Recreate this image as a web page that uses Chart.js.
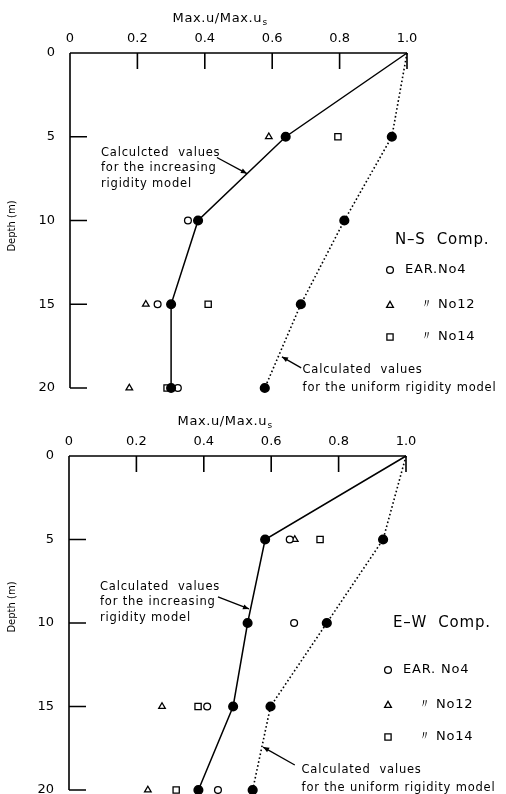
<!DOCTYPE html>
<html><head><meta charset="utf-8">
<script src="https://cdn.jsdelivr.net/npm/chart.js@4/dist/chart.umd.min.js"></script>
<style>
html,body{margin:0;padding:0;background:#fff;width:506px;height:794px;overflow:hidden}
canvas{position:absolute;left:0}
#c1{top:0}
#c2{top:400px}
</style></head><body>
<canvas id="c1" width="506" height="400" style="width:506px;height:400px"></canvas>
<canvas id="c2" width="506" height="394" style="width:506px;height:394px"></canvas>
<script>
// ---- data ----
const depths = [0, 5, 10, 15, 20];
const xTickLabels = ['0', '0.2', '0.4', '0.6', '0.8', '1.0'];
const yTickLabels = ['0', '5', '10', '15', '20'];
const xTitle = 'Max.u/Max.u';
const xTitleSub = 's';
const yTitle = 'Depth (m)';

// N-S component
const nsIncreasing = [1.0, 0.64, 0.38, 0.30, 0.30];
const nsUniform = [1.0, 0.955, 0.814, 0.685, 0.578];
const nsNo4 = [null, 0.64, 0.35, 0.26, 0.32];
const nsNo12 = [null, 0.59, null, 0.225, 0.176];
const nsNo14 = [null, 0.795, null, 0.41, 0.288];

// E-W component
const ewIncreasing = [1.0, 0.582, 0.53, 0.487, 0.384];
const ewUniform = [1.0, 0.932, 0.765, 0.598, 0.545];
const ewNo4 = [null, 0.655, 0.668, 0.41, 0.442];
const ewNo12 = [null, 0.67, null, 0.276, 0.234];
const ewNo14 = [null, 0.745, null, 0.383, 0.318];

const legendNames = ['EAR.No4', 'No12', 'No14'];
const legendNamesEW = ['EAR. No4', 'No12', 'No14'];

const FONT = '"DejaVu Sans", sans-serif';

function pts(vals) {
  const out = [];
  vals.forEach((v, i) => { if (v !== null) out.push({x: v, y: depths[i]}); });
  return out;
}

function drawArrow(ctx, x1, y1, x2, y2) {
  ctx.beginPath(); ctx.moveTo(x1, y1); ctx.lineTo(x2, y2); ctx.stroke();
  const a = Math.atan2(y2 - y1, x2 - x1), L = 6, w = 2.6;
  ctx.beginPath();
  ctx.moveTo(x2, y2);
  ctx.lineTo(x2 - L * Math.cos(a) + w * Math.sin(a), y2 - L * Math.sin(a) - w * Math.cos(a));
  ctx.lineTo(x2 - L * Math.cos(a) - w * Math.sin(a), y2 - L * Math.sin(a) + w * Math.cos(a));
  ctx.closePath(); ctx.fill();
}

function marker(ctx, style, x, y) {
  ctx.beginPath();
  if (style === 'circle') { ctx.arc(x, y, 3.4, 0, Math.PI * 2); }
  else if (style === 'triangle') { ctx.moveTo(x, y - 3.6); ctx.lineTo(x + 3.4, y + 2.4); ctx.lineTo(x - 3.4, y + 2.4); ctx.closePath(); }
  else { ctx.rect(x - 3.1, y - 3.1, 6.2, 6.2); }
  ctx.stroke();
}

function makeDecor(opt) {
  return {
    id: 'decor',
    afterDraw(chart) {
      const ctx = chart.ctx, xs = chart.scales.x, ys = chart.scales.y;
      const X = v => xs.getPixelForValue(v), Y = v => ys.getPixelForValue(v);
      ctx.save();
      ctx.strokeStyle = '#000'; ctx.fillStyle = '#000'; ctx.lineWidth = 1.6;
      // axis lines
      ctx.beginPath();
      ctx.moveTo(X(0), Y(0)); ctx.lineTo(X(1), Y(0));
      ctx.moveTo(X(0), Y(0)); ctx.lineTo(X(0), Y(20));
      ctx.stroke();
      // inward ticks
      ctx.beginPath();
      xTickLabels.slice(1).forEach(t => { const v = parseFloat(t); ctx.moveTo(X(v), Y(0)); ctx.lineTo(X(v), Y(0) + 16); });
      yTickLabels.slice(1).forEach(t => { const v = parseFloat(t); ctx.moveTo(X(0), Y(v)); ctx.lineTo(X(0) + 17, Y(v)); });
      ctx.stroke();
      // x title with subscript
      ctx.letterSpacing = '0.6px';
      ctx.font = '13px ' + FONT; ctx.textBaseline = 'middle'; ctx.textAlign = 'left';
      const w1 = ctx.measureText(xTitle).width;
      ctx.font = '9px ' + FONT;
      const w2 = ctx.measureText(xTitleSub).width;
      const tx = opt.titleX - (w1 + w2) / 2;
      ctx.font = '13px ' + FONT; ctx.fillText(xTitle, tx, opt.titleY);
      ctx.font = '9px ' + FONT; ctx.fillText(xTitleSub, tx + w1 + 0.5, opt.titleY + 4);
      ctx.letterSpacing = '0px';
      // y title
      ctx.save();
      ctx.translate(12, opt.yTitleY); ctx.rotate(-Math.PI / 2);
      ctx.font = '10px ' + FONT; ctx.textAlign = 'center'; ctx.textBaseline = 'middle';
      ctx.fillText(yTitle, 0, 0);
      ctx.restore();
      // annotations
      ctx.lineWidth = 1.3;
      opt.notes.forEach(n => {
        ctx.font = '11.5px ' + FONT; ctx.textAlign = 'left'; ctx.textBaseline = 'middle';
        ctx.letterSpacing = '0.8px';
        n.lines.forEach((ln, i) => ctx.fillText(ln, X(n.x), Y(n.y) + i * n.lh));
        ctx.letterSpacing = '0px';
        drawArrow(ctx, X(n.from[0]), Y(n.from[1]), X(n.to[0]), Y(n.to[1]));
      });
      // component label + legend
      ctx.letterSpacing = '0.8px';
      ctx.font = '15px ' + FONT; ctx.textAlign = 'left'; ctx.textBaseline = 'middle';
      ctx.fillText(opt.comp, opt.legX + 5, opt.compY);
      ctx.lineWidth = 1.3;
      const styles = ['circle', 'triangle', 'rect'];
      opt.legRows.forEach((ry, i) => {
        marker(ctx, styles[i], opt.legX, ry);
        ctx.font = '13px ' + FONT;
        if (i === 0) ctx.fillText(opt.names[0], opt.legX + 15, ry);
        else {
          ctx.fillText('\u3003', opt.legX + 30, ry);
          ctx.fillText(opt.names[i], opt.legX + 48, ry);
        }
      });
      ctx.letterSpacing = '0px';
      ctx.restore();
    }
  };
}

function makeChart(id, inc, uni, o4, o12, o14, layout, decor) {
  const obsCommon = {showLine: false, pointBackgroundColor: '#fff', pointBorderColor: '#000', pointBorderWidth: 1.3, clip: false};
  new Chart(document.getElementById(id), {
    type: 'scatter',
    data: {
      datasets: [
        {label: 'increasing', data: pts(inc), showLine: true, borderColor: '#000', borderWidth: 1.5,
         pointRadius: ctx => ctx.dataIndex === 0 ? 0 : 4.3, pointBackgroundColor: '#000', pointBorderColor: '#000', clip: false},
        {label: 'uniform', data: pts(uni), showLine: true, borderColor: '#000', borderWidth: 1.6, borderDash: [1.6, 2.4],
         pointRadius: ctx => ctx.dataIndex === 0 ? 0 : 4.3, pointBackgroundColor: '#000', pointBorderColor: '#000', clip: false},
        Object.assign({label: 'No4', data: pts(o4), pointStyle: 'circle', pointRadius: 3.4}, obsCommon),
        Object.assign({label: 'No12', data: pts(o12), pointStyle: 'triangle', pointRadius: 3.8}, obsCommon),
        Object.assign({label: 'No14', data: pts(o14), pointStyle: 'rect', pointRadius: 4.4}, obsCommon)
      ]
    },
    options: {
      responsive: false, animation: false, devicePixelRatio: 1,
      layout: {padding: layout.padding, autoPadding: false},
      plugins: {legend: {display: false}, tooltip: {enabled: false}},
      scales: {
        x: {type: 'linear', position: 'top', min: 0, max: 1, border: {display: false},
            grid: {display: false, drawTicks: false},
            ticks: {stepSize: 0.2, padding: 7, color: '#000', font: {family: FONT, size: 13},
                    callback: (v) => { const i = Math.round(v / 0.2); return xTickLabels[i]; }},
            afterFit: s => { s.height = layout.top; s.paddingLeft = 0; s.paddingRight = 0; }},
        y: {type: 'linear', reverse: true, min: 0, max: 20, border: {display: false},
            grid: {display: false, drawTicks: false},
            ticks: {stepSize: 5, padding: 15, color: '#000', font: {family: FONT, size: 13},
                    callback: (v) => yTickLabels[Math.round(v / 5)]},
            afterFit: s => { s.width = layout.left; s.paddingTop = 0; s.paddingBottom = 0; }}
      }
    },
    plugins: [makeDecor(decor)]
  });
}

makeChart('c1', nsIncreasing, nsUniform, nsNo4, nsNo12, nsNo14,
  {top: 53, left: 70, padding: {left: 0, right: 99, top: 0, bottom: 12}},
  {titleX: 220, titleY: 19, yTitleY: 226, comp: 'N\u2013S  Comp.', compY: 240, legX: 390,
   legRows: [270, 305, 337], names: legendNames,
   notes: [
     {x: 0.092, y: 5.95, lh: 15.5, lines: ['Calculcted  values', 'for the increasing', 'rigidity model'], from: [0.436, 6.24], to: [0.525, 7.2]},
     {x: 0.69, y: 18.92, lh: 18, lines: ['Calculated  values', 'for the uniform rigidity model'], from: [0.686, 18.8], to: [0.629, 18.14]}
   ]});

makeChart('c2', ewIncreasing, ewUniform, ewNo4, ewNo12, ewNo14,
  {top: 56, left: 69, padding: {left: 0, right: 100, top: 0, bottom: 4}},
  {titleX: 225, titleY: 22, yTitleY: 207, comp: 'E\u2013W  Comp.', compY: 223, legX: 388,
   legRows: [270, 305, 337], names: legendNamesEW,
   notes: [
     {x: 0.092, y: 7.84, lh: 15.5, lines: ['Calculated  values', 'for the increasing', 'rigidity model'], from: [0.442, 8.44], to: [0.534, 9.16]},
     {x: 0.69, y: 18.8, lh: 18, lines: ['Calculated  values', 'for the uniform rigidity model'], from: [0.67, 18.5], to: [0.576, 17.43]}
   ]});
</script>
</body></html>
